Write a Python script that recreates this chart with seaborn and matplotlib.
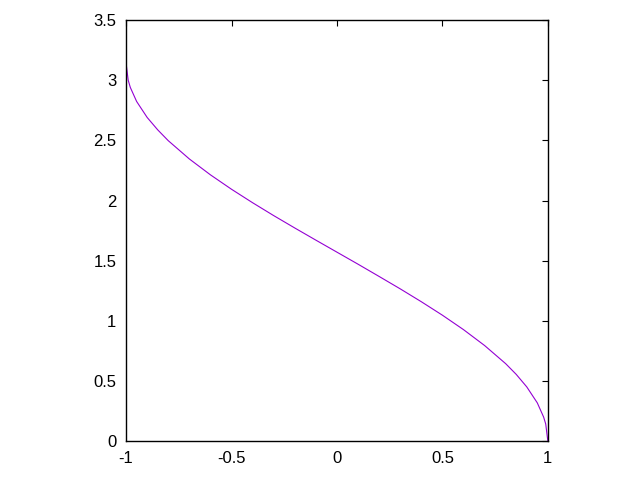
import matplotlib
matplotlib.use("Agg")
import matplotlib.pyplot as plt
import pandas as pd
import seaborn as sns

# values
x_vals = [-1.0, -0.99, -0.98, -0.95, -0.9, -0.85, -0.8, -0.7, -0.6, -0.5, -0.4, -0.3,
          -0.2, -0.1, 0.0, 0.1, 0.2, 0.3, 0.4, 0.5, 0.6, 0.7, 0.8, 0.85, 0.9,
          0.95, 0.98, 0.99, 1.0]
y_vals = [3.142, 3.001, 2.941, 2.824, 2.691, 2.588, 2.498, 2.346, 2.214, 2.094, 1.982, 1.875,
          1.772, 1.671, 1.571, 1.471, 1.369, 1.266, 1.159, 1.047, 0.927, 0.795, 0.644, 0.555, 0.451,
          0.318, 0.200, 0.142, 0.0]
x_ticks = [-1, -0.5, 0, 0.5, 1]
x_labels = ["-1", "-0.5", "0", "0.5", "1"]
y_ticks = [0, 0.5, 1, 1.5, 2, 2.5, 3, 3.5]
y_labels = ["0", "0.5", "1", "1.5", "2", "2.5", "3", "3.5"]

df = pd.DataFrame({"x": x_vals, "y": y_vals})

sns.set_style("white")
plt.rcParams["font.family"] = ["Liberation Sans", "DejaVu Sans"]

fig = plt.figure(figsize=(6.4, 4.8), dpi=100)
ax = fig.add_axes([0.197, 0.081, 0.659, 0.877])
sns.lineplot(data=df, x="x", y="y", color="#9400D3", linewidth=0.8, ax=ax)

ax.set_xlim(-1, 1)
ax.set_ylim(0, 3.5)
ax.set_xticks(x_ticks)
ax.set_xticklabels(x_labels)
ax.set_yticks(y_ticks)
ax.set_yticklabels(y_labels)
ax.set_xlabel("")
ax.set_ylabel("")
ax.tick_params(direction="in", length=4, width=0.8, top=True, right=True,
               labelsize=12, colors="black", pad=7)
for s in ax.spines.values():
    s.set_color("black")
    s.set_linewidth(1)

fig.savefig("out.png", dpi=100)
